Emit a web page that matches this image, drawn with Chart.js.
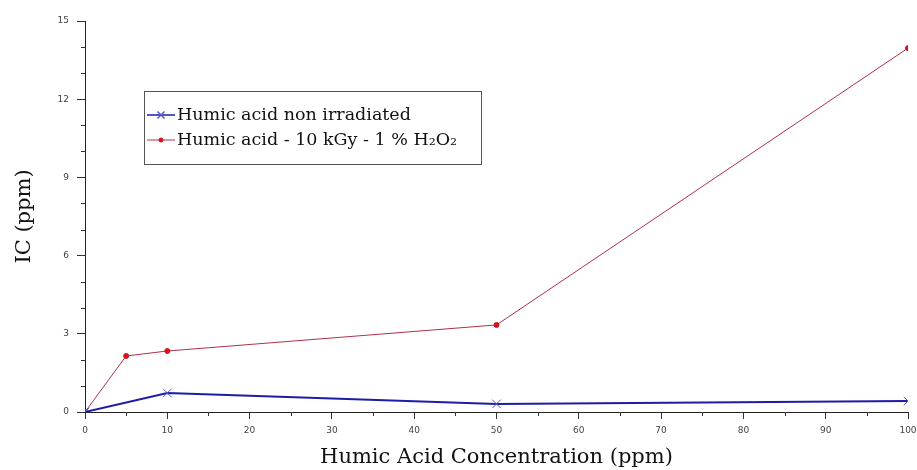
<!DOCTYPE html>
<html>
<head>
<meta charset="utf-8">
<script src="https://cdn.jsdelivr.net/npm/chart.js@4/dist/chart.umd.min.js"></script>
<style>
  html, body { margin: 0; padding: 0; background: #fff; }
  #wrap { width: 917px; height: 470px; }
</style>
</head>
<body>
<div id="wrap"><canvas id="icChart" width="917" height="470"></canvas></div>
<script>
// concentrations (ppm) and measured IC (ppm)
const concNonIrr = [0, 10, 50, 100];
const icNonIrr = [0, 0.73, 0.31, 0.42];
const concIrr = [0, 5, 10, 50, 100];
const icIrr = [0, 2.15, 2.34, 3.34, 13.96];

const seriesNames = ['Humic acid non irradiated', 'Humic acid - 10 kGy - 1 % H\u2082O\u2082'];
const xTitle = 'Humic Acid Concentration (ppm)';
const yTitle = 'IC (ppm)';

const serif = '"DejaVu Serif", serif';
const blue = '#1c1ca8';
const red = '#b0304a';

// short minor ticks between the labelled ones
const minorTicks = {
    id: 'minorTicks',
    afterDraw(chart) {
        const c = chart.ctx;
        const xs = chart.scales.x, ys = chart.scales.y;
        c.save();
        c.strokeStyle = '#333';
        c.lineWidth = 1;
        c.beginPath();
        xs.ticks.forEach(t => {
            if (t.value % 10 !== 0) {
                const px = Math.round(xs.getPixelForValue(t.value)) + 0.5;
                c.moveTo(px, xs.top);
                c.lineTo(px, xs.top + 4);
            }
        });
        ys.ticks.forEach(t => {
            if (t.value % 3 !== 0) {
                const py = Math.round(ys.getPixelForValue(t.value)) + 0.5;
                c.moveTo(ys.right - 4, py);
                c.lineTo(ys.right, py);
            }
        });
        c.stroke();
        c.restore();
    }
};

// legend box inside the plot, drawn by hand so it gets a frame
const boxLegend = {
    id: 'boxLegend',
    afterDraw(chart) {
        const c = chart.ctx;
        const x0 = 144, y0 = 91, w = 337, h = 73;
        c.save();
        c.fillStyle = '#fff';
        c.fillRect(x0, y0, w, h);
        c.strokeStyle = '#555';
        c.lineWidth = 1;
        c.strokeRect(x0 + 0.5, y0 + 0.5, w, h);
        c.font = '17.5px ' + serif;
        c.textBaseline = 'middle';
        chart.data.datasets.forEach((ds, i) => {
            const y = y0 + 24 + i * 25;
            c.strokeStyle = ds.borderColor;
            c.lineWidth = i === 0 ? 1.5 : 1;
            c.beginPath();
            c.moveTo(x0 + 3, y);
            c.lineTo(x0 + 31, y);
            c.stroke();
            c.strokeStyle = ds.pointBorderColor;
            c.fillStyle = ds.pointBackgroundColor || ds.pointBorderColor;
            Chart.helpers.drawPoint(c, {
                pointStyle: ds.pointStyle, radius: ds.pointStyle === 'circle' ? 2 : 5, borderWidth: 1
            }, x0 + 17, y);
            c.fillStyle = '#111';
            c.fillText(ds.label, x0 + 33, y);
        });
        c.restore();
    }
};

new Chart(document.getElementById('icChart'), {
    type: 'line',
    data: {
        datasets: [{
            label: seriesNames[0],
            data: concNonIrr.map((x, i) => ({ x: x, y: icNonIrr[i] })),
            borderColor: blue,
            borderWidth: 2,
            pointStyle: 'crossRot',
            pointRadius: 6,
            pointBorderColor: '#5a5ac8',
            pointBorderWidth: 1,
            fill: false,
            tension: 0
        }, {
            label: seriesNames[1],
            data: concIrr.map((x, i) => ({ x: x, y: icIrr[i] })),
            borderColor: red,
            borderWidth: 1,
            pointStyle: 'circle',
            pointRadius: 2.5,
            pointBackgroundColor: '#d8101c',
            pointBorderColor: '#d8101c',
            fill: false,
            tension: 0
        }]
    },
    options: {
        responsive: false,
        animation: false,
        layout: { padding: { top: 21, right: 0, left: 0, bottom: 0 } },
        plugins: {
            legend: { display: false },
            tooltip: { enabled: false }
        },
        scales: {
            x: {
                type: 'linear',
                min: 0,
                max: 100,
                afterFit: s => { s.height = 58; s.paddingRight = 9; s.paddingLeft = 0; },
                border: { display: true, color: '#222', width: 1 },
                grid: {
                    drawOnChartArea: false, drawTicks: true, tickLength: 7,
                    tickColor: ctx => (ctx.tick && ctx.tick.value % 10 === 0 ? '#333' : 'rgba(0,0,0,0)')
                },
                ticks: {
                    stepSize: 5,
                    autoSkip: false,
                    maxRotation: 0,
                    padding: 6,
                    color: '#444',
                    font: { family: '"DejaVu Sans"', size: 9 },
                    callback: v => (v % 10 === 0 ? v : '')
                },
                title: {
                    display: true,
                    text: xTitle,
                    color: '#111',
                    font: { family: serif, size: 21 },
                    padding: { top: 4, bottom: 0 }
                }
            },
            y: {
                min: 0,
                max: 15,
                afterFit: s => { s.width = 85; },
                border: { display: true, color: '#222', width: 1 },
                grid: {
                    drawOnChartArea: false, drawTicks: true, tickLength: 8,
                    tickColor: ctx => (ctx.tick && ctx.tick.value % 3 === 0 ? '#333' : 'rgba(0,0,0,0)')
                },
                ticks: {
                    stepSize: 1,
                    autoSkip: false,
                    padding: 8,
                    color: '#444',
                    font: { family: '"DejaVu Sans"', size: 9 },
                    callback: v => (v % 3 === 0 ? v : '')
                },
                title: {
                    display: true,
                    text: yTitle,
                    color: '#111',
                    font: { family: serif, size: 21 },
                    padding: { top: 12, bottom: 6 }
                }
            }
        }
    },
    plugins: [minorTicks, boxLegend]
});
</script>
</body>
</html>
